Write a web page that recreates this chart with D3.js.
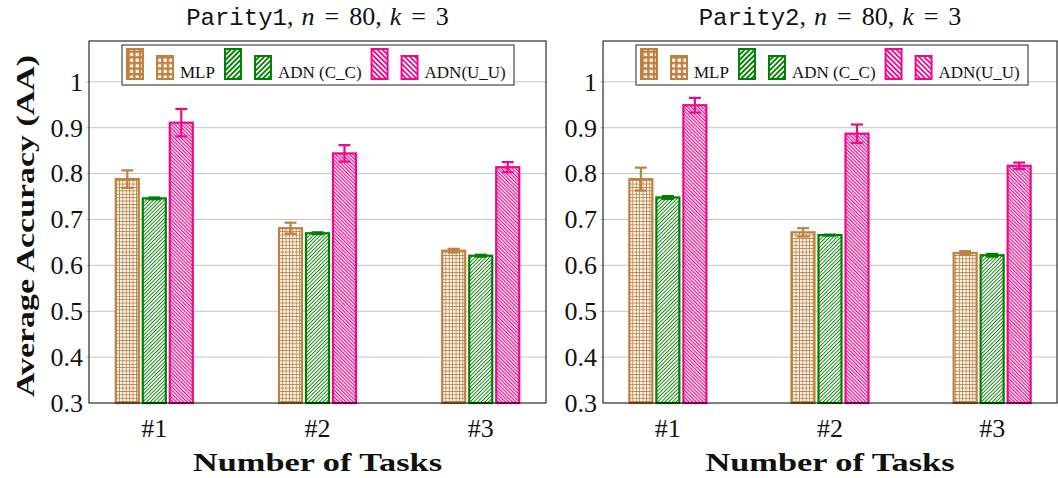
<!DOCTYPE html>
<html>
  <head>
    <meta charset="UTF-8" />
    <title>Parity bars</title>
    <script src="https://d3js.org/d3.v7.min.js"></script>
    <style>
      body {
        margin: 0;
        background: #fff;
      }
    </style>
  </head>
  <body>
    <div id="chart"></div>
    <script>
      const categories = ["#1", "#2", "#3"];
      const seriesNames = ["MLP", "ADN (C_C)", "ADN(U_U)"];
      const yTicks = [0.3, 0.4, 0.5, 0.6, 0.7, 0.8, 0.9, 1];

      // Parity1
      const p1Mlp = [0.788, 0.681, 0.632];
      const p1MlpErr = [0.019, 0.012, 0.004];
      const p1Cc = [0.746, 0.67, 0.621];
      const p1CcErr = [0.002, 0.002, 0.002];
      const p1Uu = [0.911, 0.844, 0.814];
      const p1UuErr = [0.03, 0.018, 0.011];

      // Parity2
      const p2Mlp = [0.788, 0.672, 0.627];
      const p2MlpErr = [0.025, 0.009, 0.004];
      const p2Cc = [0.748, 0.666, 0.622];
      const p2CcErr = [0.003, 0.001, 0.003];
      const p2Uu = [0.949, 0.887, 0.817];
      const p2UuErr = [0.016, 0.02, 0.007];

      const colors = ["#bf8040", "#008000", "#ec0a8c"];
      const serif = "'Liberation Serif', 'Times New Roman', serif";
      const W = 1058,
        H = 478;
      const plotTop = 41,
        plotBottom = 403;

      const svg = d3
        .select("#chart")
        .append("svg")
        .attr("width", W)
        .attr("height", H)
        .attr("font-family", serif);

      const defs = svg.append("defs");

      function gridPattern(id, size, lw, bg, fg) {
        const p = defs
          .append("pattern")
          .attr("id", id)
          .attr("patternUnits", "userSpaceOnUse")
          .attr("width", size)
          .attr("height", size);
        p.append("rect").attr("width", size).attr("height", size).attr("fill", bg);
        p.append("rect").attr("width", size).attr("height", lw).attr("fill", fg);
        p.append("rect").attr("width", lw).attr("height", size).attr("fill", fg);
      }
      function linePattern(id, angle, size, lw, bg, fg) {
        const p = defs
          .append("pattern")
          .attr("id", id)
          .attr("patternUnits", "userSpaceOnUse")
          .attr("width", size)
          .attr("height", size)
          .attr("patternTransform", `rotate(${angle})`);
        p.append("rect").attr("width", size).attr("height", size).attr("fill", bg);
        p.append("rect").attr("width", lw).attr("height", size).attr("fill", fg);
      }
      gridPattern("pat0", 3.4, 0.9, "#fff", colors[0]);
      linePattern("pat1", 45, 2.6, 0.9, "#fff", colors[1]);
      linePattern("pat2", -45, 2.5, 1.2, "#fff", colors[2]);
      // legend patterns
      gridPattern("leg0", 5.6, 2.4, "#fff", colors[0]);
      linePattern("leg1", 45, 3.6, 1.8, "#fff", colors[1]);
      linePattern("leg2", -45, 3.6, 1.8, "#fff", colors[2]);

      const y = d3.scaleLinear().domain([0.3, 1.089]).range([plotBottom, plotTop]);

      function drawPanel(x0, panelW, name, means, errs) {
        const x1 = x0 + panelW;
        const g = svg.append("g");
        const x = d3.scalePoint().domain(categories).range([x0, x1]).padding(0.4);
        const xs = d3.scalePoint().domain(seriesNames).range([-27, 27]);
        const bw = 23;

        // grid
        g.selectAll("line.grid")
          .data(yTicks.slice(1))
          .join("line")
          .attr("x1", x0 - 3)
          .attr("x2", x1)
          .attr("y1", (d) => y(d))
          .attr("y2", (d) => y(d))
          .attr("stroke", "#c4c4c4")
          .attr("stroke-width", 1);

        // y tick labels
        g.selectAll("text.yt")
          .data(yTicks)
          .join("text")
          .attr("x", x0 - 6)
          .attr("y", (d) => y(d))
          .attr("dy", "0.34em")
          .attr("text-anchor", "end")
          .attr("font-family", serif)
          .attr("font-size", 26)
          .attr("fill", "#111")
          .text((d) => (d === 1 ? "1" : d3.format(".1f")(d)));

        // x tick labels
        g.selectAll("text.xt")
          .data(categories)
          .join("text")
          .attr("x", (d) => x(d))
          .attr("y", 437)
          .attr("text-anchor", "middle")
          .attr("font-family", serif)
          .attr("font-size", 26)
          .attr("fill", "#111")
          .text((d) => d);

        // bars
        seriesNames.forEach((s, si) => {
          const vals = means[si];
          const er = errs[si];
          const bars = g.append("g");
          bars
            .selectAll("rect")
            .data(categories)
            .join("rect")
            .attr("x", (d) => x(d) + xs(s) - bw / 2)
            .attr("y", (d, i) => y(vals[i]))
            .attr("width", bw)
            .attr("height", (d, i) => y(0.3) - y(vals[i]))
            .attr("fill", `url(#pat${si})`)
            .attr("stroke", colors[si])
            .attr("stroke-width", 2.2);

          const eb = bars
            .selectAll("g.eb")
            .data(categories)
            .join("g")
            .attr("stroke", colors[si])
            .attr("stroke-width", 2.2);
          eb.append("line")
            .attr("x1", (d) => x(d) + xs(s))
            .attr("x2", (d) => x(d) + xs(s))
            .attr("y1", (d, i) => y(vals[i] + er[i]))
            .attr("y2", (d, i) => y(vals[i] - er[i]));
          [1, -1].forEach((sg) => {
            eb.append("line")
              .attr("x1", (d) => x(d) + xs(s) - 6)
              .attr("x2", (d) => x(d) + xs(s) + 6)
              .attr("y1", (d, i) => y(vals[i] + sg * er[i]))
              .attr("y2", (d, i) => y(vals[i] + sg * er[i]));
          });
        });

        // frame
        g.append("rect")
          .attr("x", x0)
          .attr("y", plotTop)
          .attr("width", panelW)
          .attr("height", plotBottom - plotTop)
          .attr("fill", "none")
          .attr("stroke", "#000")
          .attr("stroke-width", 1);

        // legend
        const lg = g.append("g").attr("transform", `translate(${x0 + 33},45)`);
        lg.append("rect")
          .attr("width", 392)
          .attr("height", 40)
          .attr("fill", "#fff")
          .attr("stroke", "#222")
          .attr("stroke-width", 1);
        let cx = 4;
        seriesNames.forEach((s, si) => {
          lg.append("rect")
            .attr("x", cx + 1)
            .attr("y", 4)
            .attr("width", 16)
            .attr("height", 30)
            .attr("fill", `url(#leg${si})`)
            .attr("stroke", colors[si])
            .attr("stroke-width", 2);
          lg.append("rect")
            .attr("x", cx + 31)
            .attr("y", 11)
            .attr("width", 16)
            .attr("height", 23)
            .attr("fill", `url(#leg${si})`)
            .attr("stroke", colors[si])
            .attr("stroke-width", 2);
          const t = lg
            .append("text")
            .attr("x", cx + 54)
            .attr("y", 33)
            .attr("font-family", serif)
            .attr("font-size", 17)
            .attr("fill", "#111")
            .text(s);
          cx += 54 + t.node().getComputedTextLength() + 9;
        });

        // title
        const tt = svg
          .append("text")
          .attr("x", x0 + panelW / 2)
          .attr("y", 25)
          .attr("text-anchor", "middle")
          .attr("font-family", serif)
          .attr("font-size", 26)
          .attr("fill", "#111");
        tt.append("tspan")
          .attr("font-family", "'Liberation Mono', monospace")
          .attr("font-size", 24)
          .text(name);
        const parts = [
          [",", 0, false],
          ["n", 8, true],
          ["=", 10, false],
          ["80", 10, false],
          [",", 0, false],
          ["k", 8, true],
          ["=", 10, false],
          ["3", 10, false],
        ];
        parts.forEach(([txt, dx, it]) => {
          tt.append("tspan")
            .attr("dx", dx)
            .attr("font-style", it ? "italic" : "normal")
            .text(txt);
        });

        // x axis title
        svg
          .append("text")
          .attr("x", x0 + panelW / 2)
          .attr("y", 471)
          .attr("text-anchor", "middle")
          .attr("font-family", serif)
          .attr("font-size", 26)
          .attr("font-weight", "bold")
          .attr("fill", "#111")
          .attr("textLength", 249)
          .attr("lengthAdjust", "spacingAndGlyphs")
          .text("Number of Tasks");
      }

      drawPanel(89, 457, "Parity1", [p1Mlp, p1Cc, p1Uu], [p1MlpErr, p1CcErr, p1UuErr]);
      drawPanel(603, 454, "Parity2", [p2Mlp, p2Cc, p2Uu], [p2MlpErr, p2CcErr, p2UuErr]);

      // y axis title
      svg
        .append("text")
        .attr("transform", "translate(34,226) rotate(-90)")
        .attr("text-anchor", "middle")
        .attr("font-family", serif)
        .attr("font-size", 26)
        .attr("font-weight", "bold")
        .attr("fill", "#111")
        .attr("textLength", 342)
        .attr("lengthAdjust", "spacingAndGlyphs")
        .text("Average Accuracy (AA)");
    </script>
  </body>
</html>
